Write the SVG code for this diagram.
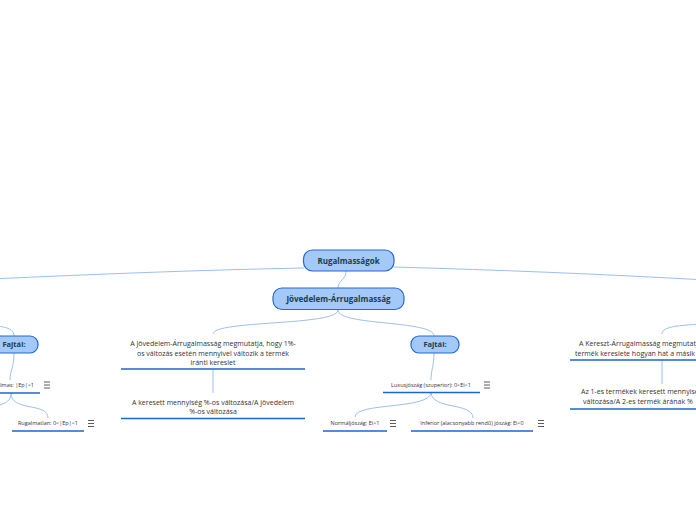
<svg xmlns="http://www.w3.org/2000/svg" width="696" height="520" viewBox="0 0 696 520">
<defs>
<style>
.topic{fill:#a4c8f8;stroke:#2069d6;stroke-width:1.2}
.tt{font-family:"Open Sans","Noto Sans","Liberation Sans",sans-serif;font-weight:bold;fill:#1b3d48;text-anchor:middle}
.nt{font-family:"Open Sans","Noto Sans","Liberation Sans",sans-serif;font-size:7px;fill:#333;text-anchor:middle}
.st{font-family:"Open Sans","Noto Sans","Liberation Sans",sans-serif;font-size:5.5px;fill:#333;text-anchor:middle}
.ul{stroke:#1a66d2;stroke-width:1.6;fill:none}
.con{stroke:#9cc0f0;stroke-width:1;fill:none}
.ic{stroke:#333;stroke-width:0.8}
</style>
<g id="menu"><line class="ic" x1="-3" y1="-3" x2="3" y2="-3"/><line class="ic" x1="-3" y1="0" x2="3" y2="0"/><line class="ic" x1="-3" y1="3" x2="3" y2="3"/></g>
</defs>
<rect width="696" height="520" fill="#fff"/>
<g id="connectors">
<path class="con" d="M304,268 C200,270 100,274 -10,279"/>
<path class="con" d="M394,267 C500,270 600,274 706,280"/>
<path class="con" d="M346,271 C346,280 338,280 338,288"/>
<path class="con" d="M338,310 C338,326 213,320 213,334"/>
<path class="con" d="M338,310 C338,326 434,320 434,336"/>
<path class="con" d="M-30,324 C0,326 14,326 14,336"/>
<path class="con" d="M14,353 C14,368 10,370 10,380"/>
<path class="con" d="M11,393 C11,412 48,402 48,418"/>
<path class="con" d="M11,393 C11,408 -10,404 -20,412"/>
<path class="con" d="M434,353 C434,366 431,370 431,380"/>
<path class="con" d="M431,392 C431,410 355,402 355,417"/>
<path class="con" d="M431,392 C431,410 473,402 473,418"/>
<path class="con" d="M213,369 L213,393"/>
<path class="con" d="M662,334 C662,324 690,326 720,322"/>
<path class="con" d="M662,360 L662,384"/>
</g>
<g id="root">
<rect class="topic" x="303.5" y="250" width="90.5" height="21" rx="9"/>
<text class="tt" x="348.5" y="263.5" font-size="8">Rugalmasságok</text>
</g>
<g id="jovedelem">
<rect class="topic" x="273" y="288" width="131" height="21.5" rx="9"/>
<text class="tt" x="338.5" y="301.5" font-size="8">Jövedelem-Árrugalmasság</text>
</g>
<g id="fajtai-left">
<rect class="topic" x="-12" y="336" width="50" height="17" rx="8"/>
<text class="tt" x="14" y="347" font-size="7.5">Fajtái:</text>
</g>
<g id="fajtai-right">
<rect class="topic" x="411" y="336" width="48" height="17" rx="8"/>
<text class="tt" x="435" y="347" font-size="7.5">Fajtái:</text>
</g>
<g id="jov-def">
<text class="nt" x="213" y="345.5">A Jövedelem-Árrugalmasság megmutatja, hogy 1%-</text>
<text class="nt" x="213" y="355.5">os változás esetén mennyivel változik a termék</text>
<text class="nt" x="213" y="365">iránti kereslet</text>
<line class="ul" x1="121" y1="369" x2="305" y2="369"/>
</g>
<g id="jov-formula">
<text class="nt" x="213" y="404.5">A keresett mennyiség %-os változása/A jövedelem</text>
<text class="nt" x="213" y="414">%-os változása</text>
<line class="ul" x1="121" y1="418.5" x2="305" y2="418.5"/>
</g>
<g id="rugalmas">
<text class="st" x="34" y="386.5" style="text-anchor:end">Rugalmas: |Ep|&gt;1</text>
<line class="ul" x1="-5" y1="393" x2="40" y2="393"/>
<use href="#menu" x="47" y="385"/>
</g>
<g id="rugalmatlan">
<text class="st" x="48" y="425">Rugalmatlan: 0&lt;|Ep|&lt;1</text>
<line class="ul" x1="12" y1="431" x2="84" y2="431"/>
<use href="#menu" x="91" y="423.5"/>
</g>
<g id="luxus">
<text class="st" x="431" y="386.5">Luxusjószág (szuperior): 0&lt;Ei&lt;1</text>
<line class="ul" x1="383" y1="392.5" x2="480" y2="392.5"/>
<use href="#menu" x="487" y="385"/>
</g>
<g id="normal">
<text class="st" x="355" y="425">Normáljószág: Ei&gt;1</text>
<line class="ul" x1="323" y1="431" x2="387" y2="431"/>
<use href="#menu" x="393" y="423.5"/>
</g>
<g id="inferior">
<text class="st" x="472" y="425">Inferior (alacsonyabb rendű) jószág: Ei&lt;0</text>
<line class="ul" x1="411" y1="431" x2="533" y2="431"/>
<use href="#menu" x="541" y="423.5"/>
</g>
<g id="kereszt-def">
<text class="nt" x="579" y="345.5" style="text-anchor:start">A Kereszt-Árrugalmasság megmutatja</text>
<text class="nt" x="575" y="355.5" style="text-anchor:start">termék kereslete hogyan hat a másik</text>
<line class="ul" x1="570" y1="360" x2="700" y2="360"/>
</g>
<g id="kereszt-formula">
<text class="nt" x="581" y="394" style="text-anchor:start">Az 1-es termékek keresett mennyisége</text>
<text class="nt" x="583" y="404" style="text-anchor:start">változása/A 2-es termék árának %</text>
<line class="ul" x1="570" y1="409" x2="700" y2="409"/>
</g>
</svg>
